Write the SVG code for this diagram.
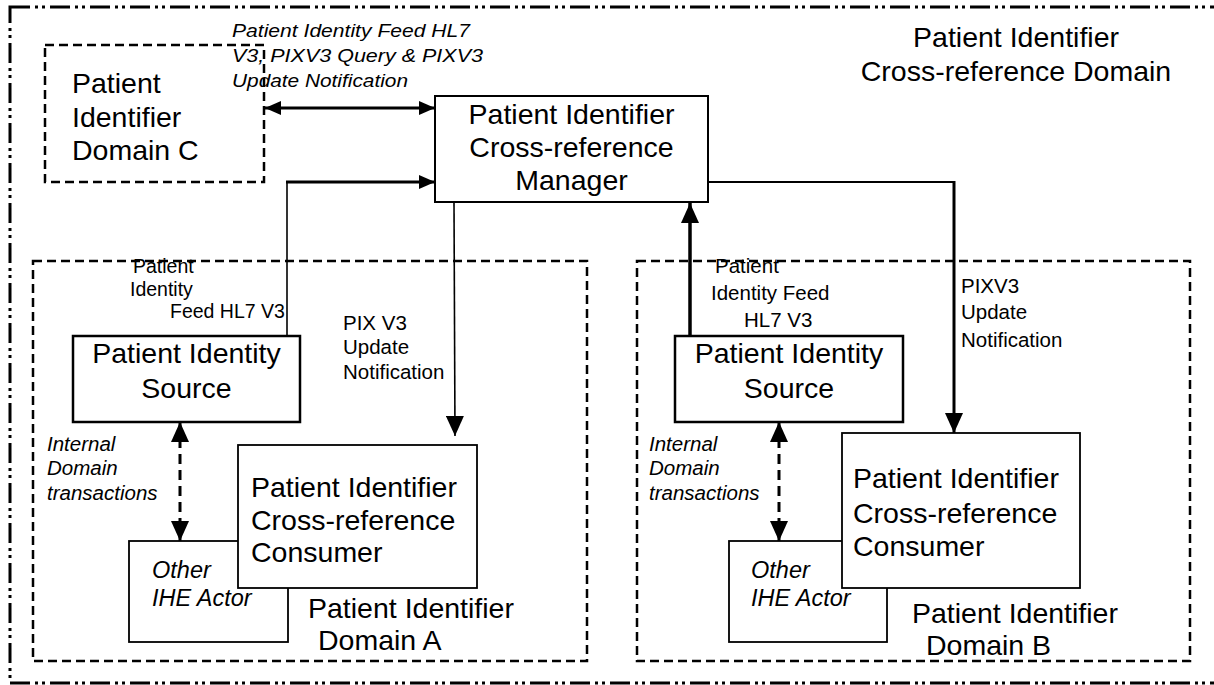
<svg xmlns="http://www.w3.org/2000/svg" width="1214" height="685" viewBox="0 0 1214 685">
<defs>
<style>
.t{font-family:"Liberation Sans",Arial,sans-serif;fill:#000}
.big{font-size:28.5px}
.sm{font-size:20.5px}
.it{font-style:italic}
.box{fill:#fff;stroke:#000}
.dom{fill:none;stroke:#000;stroke-width:2.5;stroke-dasharray:9 5}
.ln{fill:none;stroke:#000}
</style>
<marker id="ah" viewBox="0 0 16 14" refX="16" refY="7" markerWidth="16" markerHeight="14" markerUnits="userSpaceOnUse" orient="auto-start-reverse">
<path d="M0,0 L16,7 L0,14 Z" fill="#000"/>
</marker>
<marker id="ahL" viewBox="0 0 20 18" refX="20" refY="9" markerWidth="20" markerHeight="18" markerUnits="userSpaceOnUse" orient="auto-start-reverse">
<path d="M0,0 L20,9 L0,18 Z" fill="#000"/>
</marker>
</defs>
<rect width="1214" height="685" fill="#fff"/>

<g id="xref-domain">
<rect x="10" y="7" width="1212" height="676" fill="none" stroke="#000" stroke-width="3" stroke-dasharray="20 5 3 4 3 5"/>
<text class="t big" x="1016" y="47" text-anchor="middle">Patient Identifier</text>
<text class="t big" x="1016" y="81" text-anchor="middle">Cross-reference Domain</text>
</g>

<g id="domain-c">
<rect class="dom" x="45" y="45" width="219" height="137" stroke-width="3"/>
<text class="t big" x="72" y="93">Patient</text>
<text class="t big" x="72" y="127">Identifier</text>
<text class="t big" x="72" y="160">Domain C</text>
</g>

<g id="domain-a">
<rect class="dom" x="33" y="261" width="554" height="400"/>
<text class="t big" x="308" y="618">Patient Identifier</text>
<text class="t big" x="318" y="650">Domain A</text>
</g>

<g id="domain-b">
<rect class="dom" x="637" y="261" width="553" height="400"/>
<text class="t big" x="912" y="623">Patient Identifier</text>
<text class="t big" x="926" y="655">Domain B</text>
</g>

<g id="manager">
<rect class="box" x="435" y="96" width="273" height="106" stroke-width="2"/>
<text class="t big" x="571.5" y="124" text-anchor="middle">Patient Identifier</text>
<text class="t big" x="571.5" y="157" text-anchor="middle">Cross-reference</text>
<text class="t big" x="571.5" y="190" text-anchor="middle">Manager</text>
</g>

<g id="source-a">
<rect class="box" x="73" y="336" width="227" height="86" stroke-width="2.5"/>
<text class="t big" x="186.5" y="363" text-anchor="middle">Patient Identity</text>
<text class="t big" x="186.5" y="398" text-anchor="middle">Source</text>
</g>

<g id="other-a">
<rect class="box" x="129" y="541" width="159" height="101" stroke-width="1.8"/>
<text class="t it" font-size="23.5" x="152" y="578">Other</text>
<text class="t it" font-size="23.5" x="152" y="606">IHE Actor</text>
</g>

<g id="consumer-a">
<rect class="box" x="238" y="445" width="239" height="143" stroke-width="1.8"/>
<text class="t big" x="251" y="497">Patient Identifier</text>
<text class="t big" x="251" y="530">Cross-reference</text>
<text class="t big" x="251" y="562">Consumer</text>
</g>

<g id="source-b">
<rect class="box" x="675" y="336" width="228" height="86" stroke-width="2.5"/>
<text class="t big" x="789" y="363" text-anchor="middle">Patient Identity</text>
<text class="t big" x="789" y="398" text-anchor="middle">Source</text>
</g>

<g id="other-b">
<rect class="box" x="729" y="541" width="158" height="101" stroke-width="1.8"/>
<text class="t it" font-size="23.5" x="751" y="578">Other</text>
<text class="t it" font-size="23.5" x="751" y="606">IHE Actor</text>
</g>

<g id="consumer-b">
<rect class="box" x="842" y="433" width="238" height="155" stroke-width="1.8"/>
<text class="t big" x="853" y="488">Patient Identifier</text>
<text class="t big" x="853" y="523">Cross-reference</text>
<text class="t big" x="853" y="556">Consumer</text>
</g>

<g id="connectors">
<line class="ln" x1="265" y1="108" x2="435" y2="108" stroke-width="3" marker-start="url(#ah)" marker-end="url(#ah)"/>
<line class="ln" x1="287" y1="336" x2="287" y2="181" stroke-width="1.6"/>
<line class="ln" x1="286" y1="182" x2="435" y2="182" stroke-width="3" marker-end="url(#ah)"/>
<line class="ln" x1="454" y1="202" x2="455" y2="436" stroke-width="1.6" marker-end="url(#ahL)"/>
<line class="ln" x1="690" y1="336" x2="690" y2="203" stroke-width="3.5" marker-end="url(#ahL)"/>
<line class="ln" x1="708" y1="182" x2="955" y2="182" stroke-width="2"/>
<line class="ln" x1="954" y1="181" x2="954" y2="433" stroke-width="3" marker-end="url(#ahL)"/>
<line class="ln" x1="180" y1="422" x2="180" y2="541" stroke-width="3" stroke-dasharray="10 6" marker-start="url(#ahL)" marker-end="url(#ahL)"/>
<line class="ln" x1="779" y1="422" x2="779" y2="541" stroke-width="3" stroke-dasharray="10 6" marker-start="url(#ahL)" marker-end="url(#ahL)"/>

<text class="t it" font-size="18" x="232" y="37" textLength="238" lengthAdjust="spacingAndGlyphs">Patient Identity Feed HL7</text>
<text class="t it" font-size="18" x="232" y="62" textLength="251" lengthAdjust="spacingAndGlyphs">V3, PIXV3 Query  &amp; PIXV3</text>
<text class="t it" font-size="18" x="232" y="87" textLength="176" lengthAdjust="spacingAndGlyphs">Update Notification</text>

<text class="t" font-size="19.5" x="133" y="273">Patient</text>
<text class="t" font-size="19.5" x="130" y="296">Identity</text>
<text class="t" font-size="19.5" x="170" y="318">Feed HL7 V3</text>

<text class="t sm" x="343" y="330">PIX V3</text>
<text class="t sm" x="343" y="354">Update</text>
<text class="t sm" x="343" y="379">Notification</text>

<text class="t sm it" x="47" y="451">Internal</text>
<text class="t sm it" x="47" y="475">Domain</text>
<text class="t sm it" x="47" y="500">transactions</text>

<text class="t sm" x="715" y="273">Patient</text>
<text class="t sm" x="711" y="300">Identity Feed</text>
<text class="t sm" x="744" y="327">HL7 V3</text>

<text class="t sm" x="961" y="293">PIXV3</text>
<text class="t sm" x="961" y="319">Update</text>
<text class="t sm" x="961" y="347">Notification</text>

<text class="t sm it" x="649" y="451">Internal</text>
<text class="t sm it" x="649" y="475">Domain</text>
<text class="t sm it" x="649" y="500">transactions</text>
</g>
</svg>
